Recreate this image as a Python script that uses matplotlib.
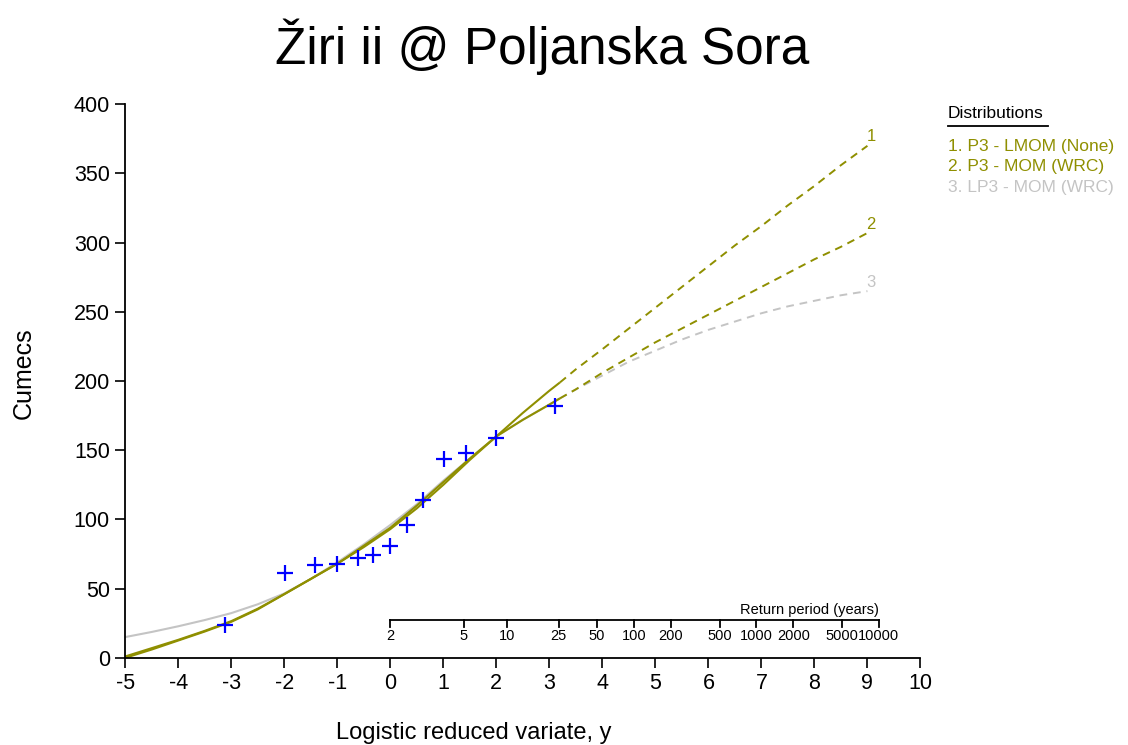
import numpy as np
import matplotlib
matplotlib.use("Agg")
import matplotlib.pyplot as plt

plt.rcParams["font.family"] = ["Liberation Sans", "DejaVu Sans"]
plt.rcParams["axes.unicode_minus"] = False

# ------------------------------------------------------------------
# Data
# ------------------------------------------------------------------
TITLE = "Žiri ii @ Poljanska Sora"

# observed annual maxima (plotted at logistic reduced variate)
obs_y = [-3.11, -1.99, -1.42, -1.01, -0.61, -0.32, 0.0, 0.32, 0.61, 1.01, 1.42, 1.99, 3.11]
obs_q = [24, 61, 67, 68, 72, 74, 81, 96, 114, 144, 148, 159, 182]

# fitted distributions, read along the reduced variate
fit_y = [-5.0, -4.5, -4.0, -3.5, -3.0, -2.5, -2.0, -1.5, -1.0, -0.5, 0.0, 0.5,
         1.0, 1.5, 2.0, 2.5, 3.0, 3.2, 3.5, 4.0, 4.5, 5.0, 5.5, 6.0, 6.5,
         7.0, 7.5, 8.0, 8.5, 9.0]
p3_lmom = [0, 6, 12.5, 19, 26, 35, 46, 57, 68, 80, 93, 108,
           125, 143, 160, 177, 193, 199, 208.5, 223, 238, 253, 268, 283, 298,
           312, 327, 341, 356, 370]
p3_mom = [1, 7, 13, 19.5, 26.5, 35.5, 46, 57, 68, 81, 94, 110,
          127, 144, 160, 172, 183, 187.5, 194, 206, 217, 228, 238, 248, 258,
          268, 278, 288, 297, 307]
lp3_mom = [15, 18.7, 22.8, 27.3, 32.3, 38.7, 46.5, 57, 69, 82, 96, 111,
           128, 144, 160, 172, 183, 187.5, 194, 204, 214, 222, 230, 237, 243,
           249, 254, 258, 262, 265]

dist_names = ["P3 - LMOM (None)", "P3 - MOM (WRC)", "LP3 - MOM (WRC)"]
dist_colors = ["#8f8f00", "#8f8f00", "#c4c4c4"]

return_periods = [2, 5, 10, 25, 50, 100, 200, 500, 1000, 2000, 5000, 10000]

# solid over the observed range, dashed for extrapolation
Y_SPLIT = 3.2
RP_AXIS_Q = 27


def main():
    fig = plt.figure(figsize=(11.28, 7.45), dpi=100)
    ax = fig.add_axes([0.111, 0.117, 0.705, 0.743])

    fy = np.array(fit_y)
    solid = fy <= Y_SPLIT + 1e-9
    dashed = fy >= Y_SPLIT - 1e-9
    curves = [p3_lmom, p3_mom, lp3_mom]
    # grey curve drawn first so the olive ones sit on top
    for i in [2, 1, 0]:
        q = np.array(curves[i])
        c = dist_colors[i]
        ax.plot(fy[solid], q[solid], color=c, lw=1.5, solid_capstyle="butt")
        ax.plot(fy[dashed], q[dashed], color=c, lw=1.4, dashes=(4, 3))
        ax.text(fy[-1] - 0.02, q[-1] + 1, str(i + 1), color=c, fontsize=12,
                ha="left", va="bottom")

    ax.plot(obs_y, obs_q, ls="none", marker="+", ms=11, mew=1.6,
            color="#0000ff")

    # return period scale inside the plot
    rp_x = np.log(np.array(return_periods) - 1.0)
    ax.plot([rp_x[0], rp_x[-1]], [RP_AXIS_Q, RP_AXIS_Q], color="black", lw=1.3)
    for x, t in zip(rp_x, return_periods):
        ax.plot([x, x], [RP_AXIS_Q, RP_AXIS_Q - 4.5], color="black", lw=1.3)
        ax.text(x, RP_AXIS_Q - 6, str(t), fontsize=10.5, ha="center", va="top")
    ax.text(rp_x[-1], RP_AXIS_Q + 2.5, "Return period (years)", fontsize=10.5,
            ha="right", va="bottom")

    ax.set_xlim(-5, 10)
    ax.set_ylim(0, 400)
    ax.set_xticks(range(-5, 11))
    ax.set_yticks(range(0, 401, 50))
    ax.tick_params(direction="out", length=7, width=1.2, labelsize=15.5,
                   pad=4)
    for s in ["top", "right"]:
        ax.spines[s].set_visible(False)
    for s in ["left", "bottom"]:
        ax.spines[s].set_linewidth(1.3)

    fig.text(0.021, 0.499, "Cumecs", fontsize=18, rotation=90,
             ha="center", va="center")
    fig.text(0.42, 0.016, "Logistic reduced variate, y", fontsize=17,
             ha="center", va="center")
    fig.text(0.481, 0.937, TITLE, fontsize=37, ha="center", va="center")

    # legend block on the right
    fig.text(0.840, 0.848, "Distributions", fontsize=12.5, ha="left",
             va="center")
    fig.add_artist(plt.Line2D([0.840, 0.929], [0.831, 0.831],
                              color="black", lw=1.3))
    for k, (name, c) in enumerate(zip(dist_names, dist_colors)):
        fig.text(0.840, 0.804 - k * 0.028, f"{k + 1}. {name}", fontsize=12.5,
                 color=c, ha="left", va="center")

    fig.savefig("out.png", dpi=100)


if __name__ == "__main__":
    main()
